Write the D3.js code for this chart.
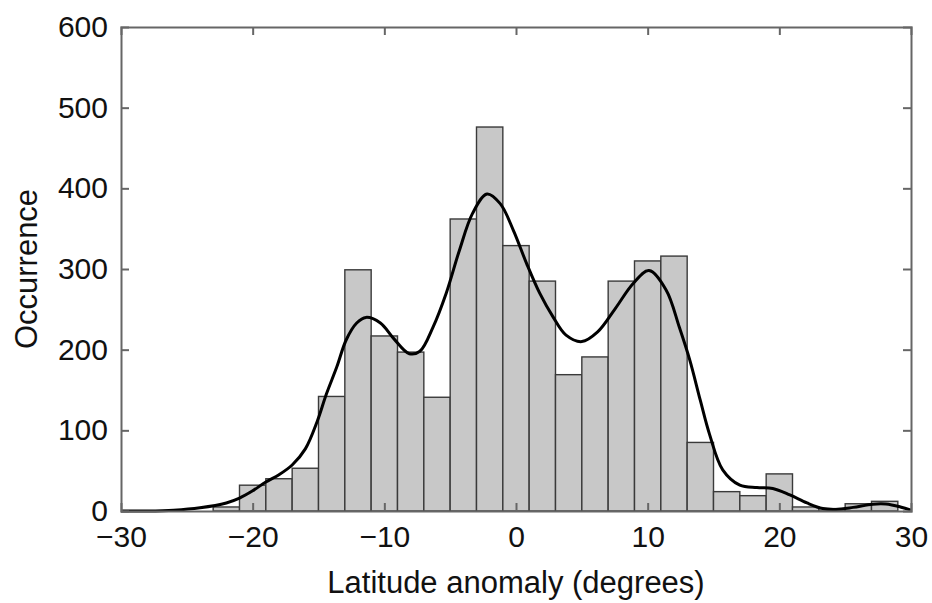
<!DOCTYPE html>
<html>
<head>
<meta charset="utf-8">
<script src="https://cdn.jsdelivr.net/npm/d3@7"></script>
<style>
  html, body { margin: 0; padding: 0; background: #fff; }
  svg { display: block; }
  text { font-family: "Liberation Sans", Arial, Helvetica, sans-serif; fill: #111; }
</style>
</head>
<body>
<svg id="chart" width="932" height="603"></svg>
<script>
// Histogram bins (left edge, width 2 degrees) and counts
const binLeft = [-23,-21,-19,-17,-15,-13,-11,-9,-7,-5,-3,-1,1,3,5,7,9,11,13,15,17,19,21,23,25,27];
const binCounts = [5,32,40,53,142,299,217,197,141,362,476,329,285,169,191,285,310,316,85,24,19,46,5,3,9,12];
const binWidth = 2;

// Smoothed density curve
const curveX = [-30,-28,-26,-24,-22,-21,-20,-19,-18,-17,-16,-15.1,-14.4,-13.6,-12.9,-12.1,-11.4,-10.3,-9.3,-8.1,-7.3,-6.3,-5.3,-4.3,-3.3,-2.2,-1.2,-0.2,0.8,1.8,2.8,3.8,5,6.2,7.5,8.9,10.1,11.4,12.4,13.2,14,14.7,15.7,17,18.3,19.5,20.8,22.1,23.3,24.3,25.6,27.1,28.1,29.2,30];
const curveY = [0,0,1,4,10,16,25,36,45,57,77,111,145,179,212,233,240,233,214,195,198,228,270,323,369,393,381,348,307,270,241,218,210,222,250,282,298,274,228,187,137,95,51,32,29,28,20,10,3,2,4.5,8.5,8.7,5,1];

// Axis ticks
const xTicks = [-30,-20,-10,0,10,20,30];
const yTicks = [0,100,200,300,400,500,600];

const svg = d3.select("#chart");
const W = 932, H = 603;
const m = {left: 121, right: 21, top: 27, bottom: 92};
const x = d3.scaleLinear().domain([-30, 30]).range([m.left, W - m.right]);
const y = d3.scaleLinear().domain([0, 600]).range([H - m.bottom, m.top]);

const fmt = d => (d < 0 ? "\u2212" + Math.abs(d) : String(d));

// Bars
svg.append("g").selectAll("rect")
  .data(binLeft.map((b, i) => ({b, c: binCounts[i]})))
  .join("rect")
  .attr("x", d => x(d.b))
  .attr("width", d => x(d.b + binWidth) - x(d.b))
  .attr("y", d => y(d.c))
  .attr("height", d => y(0) - y(d.c))
  .attr("fill", "#c8c8c8")
  .attr("stroke", "#3a3a3a")
  .attr("stroke-width", 1.4);

// Curve
const line = d3.line()
  .x(d => x(d[0]))
  .y(d => y(Math.max(0, d[1])))
  .curve(d3.curveCatmullRom.alpha(0.5));
svg.append("path")
  .datum(curveX.map((v, i) => [v, curveY[i]]))
  .attr("d", line)
  .attr("fill", "none")
  .attr("stroke", "#000")
  .attr("stroke-width", 3)
  .attr("stroke-linejoin", "round");

// Axes (ticks inward) on all sides
const tl = 8;
const axisColor = "#666";
const gB = svg.append("g").attr("transform", `translate(0,${y(0)})`)
  .call(d3.axisBottom(x).tickValues(xTicks).tickSize(-tl).tickPadding(15).tickFormat(fmt));
const gT = svg.append("g").attr("transform", `translate(0,${y(600)})`)
  .call(d3.axisTop(x).tickValues(xTicks).tickSize(-tl).tickFormat(""));
const gL = svg.append("g").attr("transform", `translate(${x(-30)},0)`)
  .call(d3.axisLeft(y).tickValues(yTicks).tickSize(-tl).tickPadding(13).tickFormat(fmt));
const gR = svg.append("g").attr("transform", `translate(${x(30)},0)`)
  .call(d3.axisRight(y).tickValues(yTicks).tickSize(-tl).tickFormat(""));

[gB, gT, gL, gR].forEach(g => {
  g.select(".domain").attr("stroke", axisColor).attr("stroke-width", 2);
  g.selectAll(".tick line").attr("stroke", axisColor).attr("stroke-width", 2);
  g.selectAll(".tick text").attr("font-size", 30).attr("fill", "#111")
    .style("font-family", '"Liberation Sans", Arial, Helvetica, sans-serif');
});
// hide end ticks that coincide with frame
gB.selectAll(".tick").filter(d => d === -30 || d === 30).select("line").remove();
gT.selectAll(".tick").filter(d => d === -30 || d === 30).select("line").remove();
gL.selectAll(".tick").filter(d => d === 0 || d === 600).select("line").remove();
gR.selectAll(".tick").filter(d => d === 0 || d === 600).select("line").remove();
gB.selectAll(".tick text").attr("dy", "0.71em");

// Axis titles
svg.append("text")
  .attr("x", (x(-30) + x(30)) / 2)
  .attr("y", 593)
  .attr("text-anchor", "middle")
  .attr("font-size", 31)
  .text("Latitude anomaly (degrees)");
svg.append("text")
  .attr("transform", `translate(37,${(y(0) + y(600)) / 2}) rotate(-90)`)
  .attr("text-anchor", "middle")
  .attr("font-size", 31)
  .text("Occurrence");
</script>
</body>
</html>
